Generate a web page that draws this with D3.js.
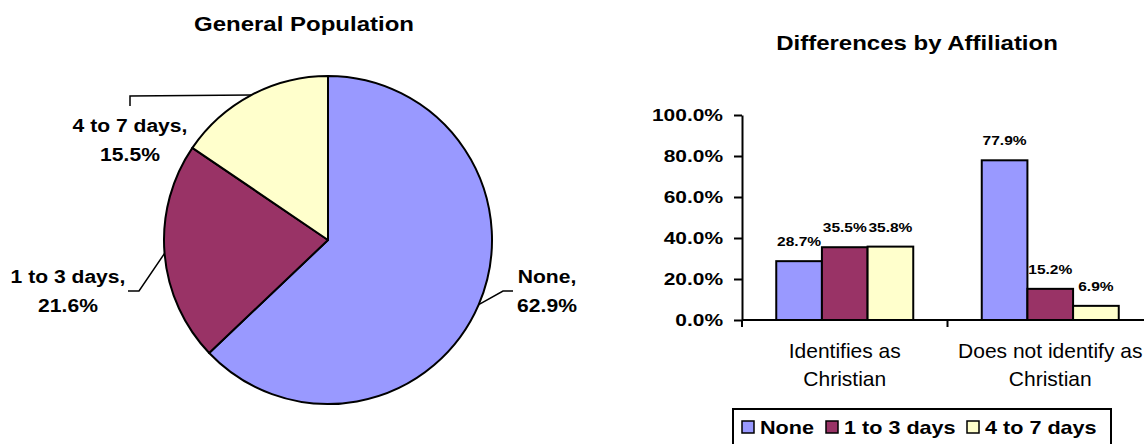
<!DOCTYPE html>
<html>
<head>
<meta charset="utf-8">
<script src="https://cdn.jsdelivr.net/npm/d3@7"></script>
<style>
  html, body { margin: 0; padding: 0; background: #fff; }
  svg { display: block; font-family: "Liberation Sans", Arial, sans-serif; }
</style>
</head>
<body>
<svg width="1144" height="444"></svg>
<script>
// pie data (general population)
var pieCategories = ["None", "1 to 3 days", "4 to 7 days"];
var pieValues = [62.9, 21.6, 15.5];

// bar data (by affiliation)
var groupLabels = [["Identifies as", "Christian"], ["Does not identify as", "Christian"]];
var noneValues = [28.7, 77.9];
var lowValues = [35.5, 15.2];
var highValues = [35.8, 6.9];
var yTicks = [0, 20, 40, 60, 80, 100];

var colors = ["#9999FF", "#993366", "#FFFFCC"];

var svg = d3.select("svg");

// bold text in the picture is a bit wider than Arial, so stretch it a little
function label(g, x, y, str, size, sx, anchor, weight) {
    return g.append("text")
        .attr("transform", "translate(" + x + "," + y + ") scale(" + sx + ",1)")
        .attr("text-anchor", anchor || "middle")
        .attr("font-size", size)
        .attr("font-weight", weight || "bold")
        .attr("fill", "#000")
        .text(str);
}

//---------------- pie ----------------
var cx = 328, cy = 240, r = 164;
label(svg, 304, 31, "General Population", 20, 1.2);

var pie = d3.pie().sort(null).value(function(d) { return d; });
var arc = d3.arc().innerRadius(0).outerRadius(r);
var slices = pie(pieValues);

var pg = svg.append("g").attr("transform", "translate(" + cx + "," + cy + ")");
pg.selectAll("path")
    .data(slices)
    .enter()
    .append("path")
    .attr("d", arc)
    .attr("fill", function(d, i) { return colors[i]; })
    .attr("stroke", "#000")
    .attr("stroke-width", 2)
    .attr("stroke-linejoin", "round");

// leader lines + labels, placed by hand like the original
var labelLayout = [
    { elbow: [503, 291], end: [513, 291], tx: 547, ty: 283 },
    { elbow: [139, 291], end: [128, 291], tx: 68, ty: 283 },
    { elbow: [130, 96], end: [130, 106], tx: 130, ty: 132 }
];
slices.forEach(function(s, i) {
    var a = (s.startAngle + s.endAngle) / 2;
    var px = cx + r * Math.sin(a), py = cy - r * Math.cos(a);
    var L = labelLayout[i];
    svg.append("path")
        .attr("d", d3.line()([[px, py], L.elbow, L.end]))
        .attr("fill", "none")
        .attr("stroke", "#000")
        .attr("stroke-width", 1.5);
    label(svg, L.tx, L.ty, pieCategories[i] + ",", 18.5, 1.14);
    label(svg, L.tx, L.ty + 29, pieValues[i].toFixed(1) + "%", 18.5, 1.14);
});

//---------------- bars ----------------
label(svg, 917, 50, "Differences by Affiliation", 20, 1.2);

var y = d3.scaleLinear().domain([0, 100]).range([320, 115]);
var x0 = d3.scaleBand().domain([0, 1]).range([742, 1153])
    .paddingInner(1 / 3).paddingOuter(1 / 6);
var x1 = d3.scaleBand().domain([0, 1, 2]).range([0, x0.bandwidth()]);

var series = [noneValues, lowValues, highValues];
var bg = svg.append("g");
series.forEach(function(vals, s) {
    bg.selectAll(".b" + s)
        .data(vals)
        .enter()
        .append("rect")
        .attr("x", function(d, i) { return x0(i) + x1(s); })
        .attr("y", function(d) { return y(d); })
        .attr("width", x1.bandwidth())
        .attr("height", function(d) { return y(0) - y(d); })
        .attr("fill", colors[s])
        .attr("stroke", "#000")
        .attr("stroke-width", 2);
    vals.forEach(function(d, i) {
        label(bg, x0(i) + x1(s) + x1.bandwidth() / 2, y(d) - 15, d.toFixed(1) + "%", 13.5, 1.15);
    });
});

// y axis
var yAxis = d3.axisLeft(y).tickValues(yTicks).tickSize(8).tickSizeOuter(0)
    .tickFormat(function(d) { return d.toFixed(1) + "%"; });
var ya = svg.append("g").attr("transform", "translate(742,0)").call(yAxis);
ya.select(".domain").attr("stroke-width", 2);
ya.selectAll(".tick line").attr("stroke-width", 2);
ya.selectAll(".tick text").remove();
yTicks.forEach(function(t) {
    label(svg, 723, y(t) + 6, t.toFixed(1) + "%", 16.5, 1.27, "end");
});

// x axis with ticks between categories
var xa = svg.append("g");
xa.append("line")
    .attr("x1", 742).attr("x2", 1144).attr("y1", y(0)).attr("y2", y(0))
    .attr("stroke", "#000").attr("stroke-width", 2);
[0, 1].forEach(function(i) {
    var tx = x0(i) - x0.step() * x0.paddingOuter() * 0 - (x0.step() - x0.bandwidth()) / 2;
    xa.append("line")
        .attr("x1", tx).attr("x2", tx).attr("y1", y(0)).attr("y2", y(0) + 7)
        .attr("stroke", "#000").attr("stroke-width", 2);
});
groupLabels.forEach(function(lines, i) {
    var gx = x0(i) + x0.bandwidth() / 2;
    lines.forEach(function(t, k) {
        label(svg, gx, 358 + k * 28, t, 21, 1, "middle", "normal");
    });
});

// legend
var lg = svg.append("g");
lg.append("rect")
    .attr("x", 733).attr("y", 409).attr("width", 378).attr("height", 60)
    .attr("fill", "#fff").attr("stroke", "#000").attr("stroke-width", 2);
var legendX = [742, 826, 967];
pieCategories.forEach(function(c, i) {
    lg.append("rect")
        .attr("x", legendX[i]).attr("y", 421).attr("width", 12).attr("height", 12)
        .attr("fill", colors[i]).attr("stroke", "#000").attr("stroke-width", 1.5);
    label(lg, legendX[i] + 18, 434, c, 18, 1.2, "start");
});
</script>
</body>
</html>
